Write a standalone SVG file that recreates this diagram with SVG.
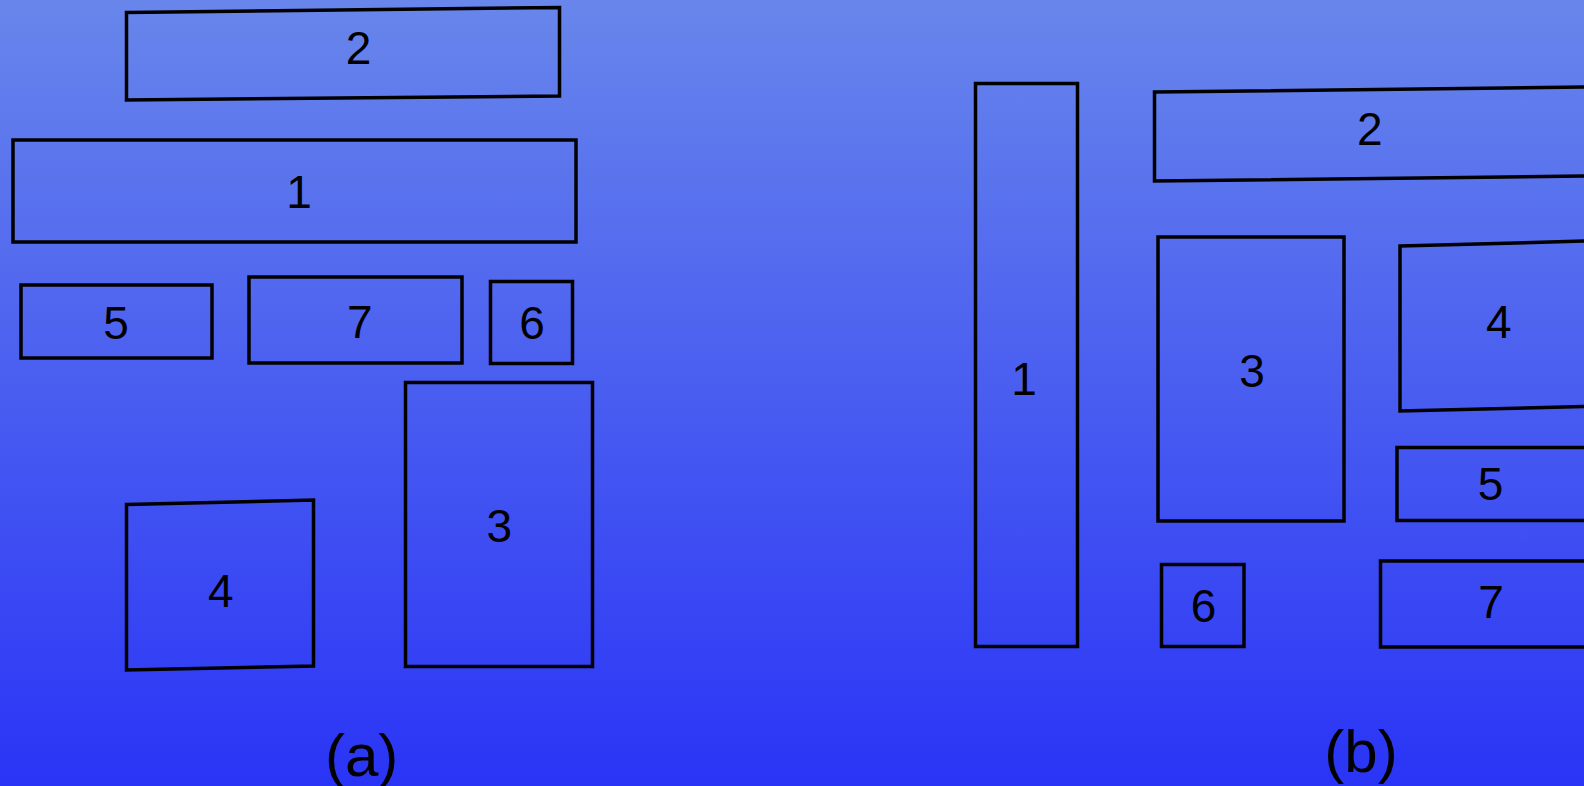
<svg xmlns="http://www.w3.org/2000/svg" width="1584" height="786" viewBox="0 0 1584 786">
<defs>
<linearGradient id="bg" x1="0" y1="0" x2="0" y2="1">
<stop offset="0" stop-color="#6886eb"/>
<stop offset="1" stop-color="#2a34f6"/>
</linearGradient>
</defs>
<style>
.b{fill:none;stroke:#000;stroke-width:3.5}
.t{font-family:"Liberation Sans",Arial,Helvetica,sans-serif;font-size:46px;fill:#000;text-anchor:middle}
.c{font-family:"Liberation Sans",Arial,Helvetica,sans-serif;font-size:60px;fill:#000;text-anchor:middle}
</style>
<rect x="0" y="0" width="1584" height="786" fill="url(#bg)"/>
<g id="panel-a">
<g id="a2"><polygon class="b" points="126.5,12.5 559.5,7.5 559.5,96 126.5,100"/><text class="t" x="358.6" y="64">2</text></g>
<g id="a1"><rect class="b" x="13" y="140" width="563" height="102"/><text class="t" x="299" y="208">1</text></g>
<g id="a5"><rect class="b" x="21" y="285" width="191" height="73"/><text class="t" x="116" y="339">5</text></g>
<g id="a7"><rect class="b" x="249" y="277" width="213" height="86"/><text class="t" x="359.7" y="338">7</text></g>
<g id="a6"><rect class="b" x="490.5" y="281.5" width="82" height="82"/><text class="t" x="532" y="339">6</text></g>
<g id="a3"><rect class="b" x="405.5" y="382.5" width="187" height="284"/><text class="t" x="499.4" y="541.5">3</text></g>
<g id="a4"><polygon class="b" points="126.5,504.5 313.5,500 313.5,666 126.5,670"/><text class="t" x="220.8" y="606.5">4</text></g>
<text class="c" x="361.7" y="776">(a)</text>
</g>
<g id="panel-b">
<g id="b1"><rect class="b" x="975.5" y="83.5" width="102" height="563"/><text class="t" x="1024" y="395">1</text></g>
<g id="b2"><polygon class="b" points="1154.5,92 1588,87 1588,176 1154.5,181"/><text class="t" x="1369.7" y="145">2</text></g>
<g id="b3"><rect class="b" x="1158" y="237" width="186" height="284"/><text class="t" x="1252" y="386.7">3</text></g>
<g id="b4"><polygon class="b" points="1400,246 1588,241 1588,406.5 1400,411"/><text class="t" x="1498.7" y="338.3">4</text></g>
<g id="b5"><rect class="b" x="1397" y="447.5" width="192" height="73"/><text class="t" x="1490.6" y="500">5</text></g>
<g id="b6"><rect class="b" x="1161.5" y="564.5" width="82.5" height="82"/><text class="t" x="1203.5" y="621.7">6</text></g>
<g id="b7"><rect class="b" x="1380.5" y="561" width="213" height="86"/><text class="t" x="1491" y="618.3">7</text></g>
<text class="c" x="1361" y="771.7">(b)</text>
</g>
<g id="connectors"/>
</svg>
